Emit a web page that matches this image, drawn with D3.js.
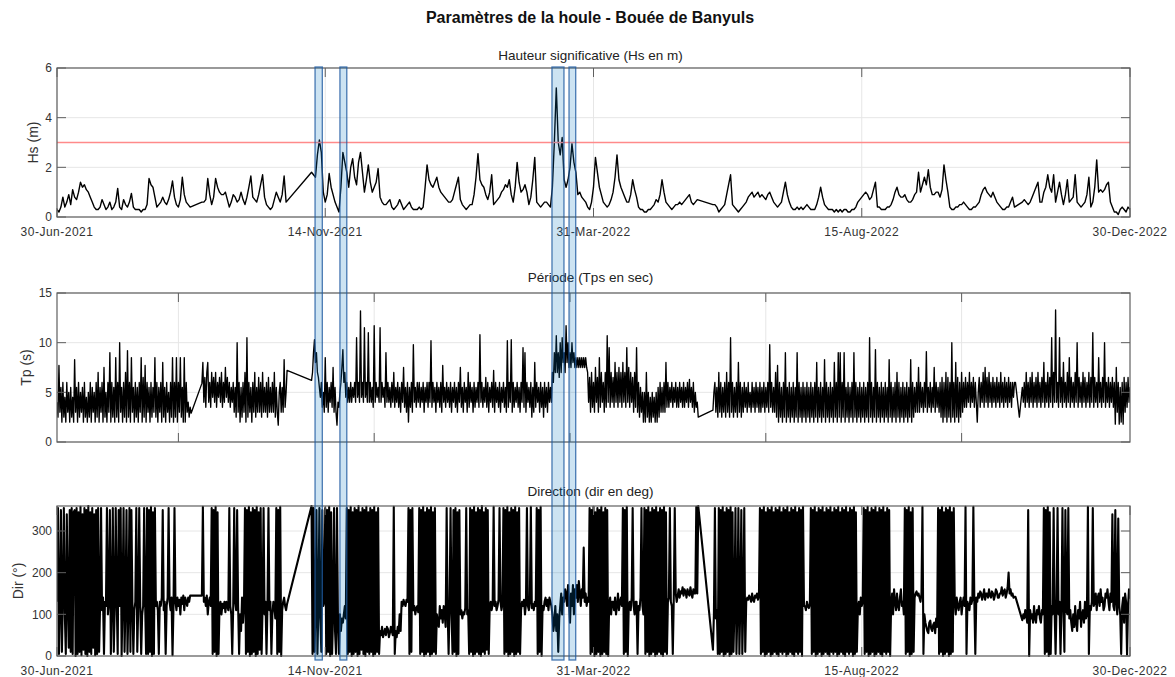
<!DOCTYPE html>
<html><head><meta charset="utf-8">
<script src="https://cdn.jsdelivr.net/npm/d3@7"></script>
<style>body{margin:0;background:#fff} svg{display:block} text{font-family:"Liberation Sans",Arial,Helvetica,sans-serif}</style>
</head><body><svg id="c" width="1175" height="677"></svg>
<script>
// ---------------- DATA ----------------
const START = "2021-06-30";
const END = "2022-12-30";
const xTickDates = ["2021-06-30","2021-11-14","2022-03-31","2022-08-15","2022-12-30"];
const tpTickDates = ["2021-08-31","2021-12-09","2022-03-19","2022-06-27","2022-10-05"];
const hsTicks = [0,2,4,6];
const tpTicks = [0,5,10,15];
const dirTicks = [0,100,200,300];
const hsThreshold = 3;
const eventWindows = [
  ["2021-11-08T19:00","2021-11-12T12:00"],
  ["2021-11-21T12:00","2021-11-25T00:00"],
  ["2022-03-09T19:00","2022-03-15T22:00"],
  ["2022-03-18T12:00","2022-03-21T22:00"]
];
// Hs: one value per day, one row = 10 days (null = no data)
const hsRows = [
[0.3,0.2,0.4,0.8,0.4,0.6,0.9,0.5,1.1,0.8],
[0.7,1.0,1.4,1.2,1.3,1.1,1.0,0.8,0.6,0.4],
[0.3,0.3,0.4,0.7,0.5,0.3,0.4,0.6,0.3,0.4],
[0.6,1.15,0.4,0.3,0.7,0.5,0.4,0.6,0.95,0.4],
[0.3,0.3,0.3,0.2,0.3,0.3,0.5,1.55,1.3,1.2],
[0.8,0.4,0.5,0.6,0.8,0.6,0.5,0.7,1.0,1.45],
[0.8,0.5,0.4,0.7,1.6,0.9,0.6,0.5,0.4,null],
[null,null,null,null,0.6,0.6,0.7,1.55,0.9,0.5],
[0.8,1.55,1.2,1.0,0.9,0.9,1.0,0.7,0.4,0.6],
[0.9,0.8,0.6,0.7,1.0,0.7,0.5,0.8,1.2,1.65],
[0.8,0.7,0.6,0.9,1.3,1.7,0.8,0.5,0.4,0.3],
[0.4,0.7,1.0,0.8,0.6,0.9,1.65,0.6,null,null],
[null,null,null,null,null,null,null,null,null,null],
[1.8,1.7,1.6,2.5,3.1,2.6,1.0,0.6,0.9,1.75],
[1.2,0.9,0.6,0.4,0.2,1.2,2.6,2.2,1.8,1.2],
[2.0,2.35,1.6,1.3,2.2,2.6,1.8,1.0,1.5,2.1],
[1.4,1.0,1.2,1.4,1.95,0.8,0.6,0.5,0.5,0.6],
[0.7,0.4,0.3,0.4,0.5,0.7,0.5,0.3,0.4,0.5],
[0.6,0.4,0.3,0.3,0.3,0.4,0.3,0.4,1.2,2.1],
[1.5,1.3,1.2,1.4,1.6,1.2,1.0,0.9,0.8,0.7],
[0.6,0.6,0.7,1.0,1.3,1.6,0.7,0.5,0.4,0.3],
[0.4,0.5,0.5,0.9,1.6,2.55,1.5,1.3,1.2,0.9],
[0.7,1.0,1.7,0.5,0.6,0.7,0.8,1.0,1.1,1.3],
[1.2,1.5,0.9,0.6,1.2,2.2,1.4,1.0,1.1,1.3],
[1.0,0.5,0.8,1.5,2.4,0.6,0.5,0.4,0.5,0.6],
[0.6,0.5,0.4,1.2,3.0,5.2,3.0,2.5,3.2,1.5],
[1.2,1.5,2.0,2.95,2.2,1.8,0.9,1.0,0.8,0.7],
[0.6,0.4,0.3,0.6,1.2,2.4,1.8,1.2,0.9,0.6],
[0.5,0.4,0.5,0.7,1.0,1.6,2.5,1.5,1.2,1.0],
[0.8,0.6,0.6,0.9,1.5,1.1,0.8,0.4,0.3,0.3],
[0.2,0.2,0.3,0.3,0.4,0.5,0.7,0.6,0.9,1.5],
[1.0,0.6,0.5,0.4,0.3,0.4,0.5,0.5,0.6,0.5],
[0.6,0.7,0.8,0.9,0.6,0.5,0.6,0.7,null,null],
[null,null,null,null,null,0.5,0.5,0.4,0.2,0.3],
[0.4,0.5,0.9,1.3,1.7,0.5,0.4,0.3,0.2,0.3],
[0.4,0.5,0.6,0.8,0.9,1.0,0.8,0.9,1.0,0.8],
[0.9,0.8,0.7,0.9,1.0,0.8,0.6,0.5,0.4,0.5],
[0.6,1.0,1.4,0.9,0.6,0.4,0.3,0.3,0.4,0.3],
[0.4,0.3,0.4,0.5,0.4,0.3,0.3,0.3,0.5,0.8],
[1.2,0.8,0.5,0.4,0.3,0.3,0.3,0.2,0.3,0.2],
[0.3,0.2,0.3,0.3,0.2,0.2,0.3,0.3,0.4,0.6],
[0.7,0.8,0.9,1.0,0.9,0.7,0.8,1.1,1.4,0.4],
[0.4,0.3,0.3,0.3,0.4,0.4,0.5,0.7,1.0,1.2],
[0.9,0.8,0.8,0.9,0.7,0.6,0.6,0.7,0.9,1.0],
[1.8,1.0,1.3,1.6,1.3,1.9,1.2,0.9,0.9,1.0],
[1.0,0.8,1.1,2.1,1.5,1.0,0.4,0.3,0.3,0.4],
[0.4,0.5,0.5,0.6,0.5,0.4,0.3,0.3,0.4,0.4],
[0.5,0.6,0.9,1.1,1.2,1.0,0.9,0.8,1.0,0.8],
[0.6,0.5,0.4,0.3,0.3,0.4,0.4,0.6,0.8,0.4],
[null,null,null,0.6,0.7,0.6,0.5,0.6,0.8,1.0],
[1.2,1.4,0.6,0.6,1.0,1.2,1.7,1.2,1.0,1.7],
[0.6,1.0,1.4,0.9,0.5,0.9,1.5,0.6,0.7,0.8],
[1.7,0.6,0.5,0.4,0.5,0.6,0.9,1.6,0.4,0.6],
[1.2,2.3,1.0,1.1,1.0,1.1,1.3,1.4,0.6,0.4],
[0.2,0.2,0.1,0.3,0.4,0.3,0.2,0.4,0.3]
];
// Tp: two values per day (12 h), one row = 10 days
const tpRows = [
[4,2.5,7.7,3,5.5,2,6,2.5,4.5,2,6,3,5,2,5.5,2.5,4.5,2,8.3,3],
[5.5,2,6,2.5,5,3,5.5,2,6,2.5,4.5,2,5,2.5,6,2,5.5,3,5,2],
[6,2.5,7,2,5.5,3,6,2,7.5,2.5,5,2,6,3,9,2,6,2.5,5.5,2],
[8.5,2.5,6,2,10,3,5.5,2,6,2.5,7,2,9.2,2.5,6,2,8.5,3,5.5,2],
[6,2.5,5.5,2,6,3,8.5,2,6.5,2.5,7.7,2,6,3,5.5,2,6,2.5,5.5,3],
[8.5,2.5,6,2,5.5,3,6,2,8,2.5,5.5,2,6,3,5,2,6,2.5,8.5,2],
[6,2.5,8.5,2,6,3,8.5,2.5,5.5,2,8.5,2,6,3,4,2.5,3.5,2.9,null,null],
[null,null,null,null,null,null,null,null,5.9,8,4,6.5,3.5,7,8,4,6,3.5,7,4.5],
[6.5,4,7,3.5,6,4.5,6.5,4,7,3.5,6,4,7.5,4.5,6.5,4,6,3.5,5.5,4],
[6,3,5.5,2.5,10,3,6,2,5.5,2.5,6,3,7,2,10.5,2.5,6,3,5.5,2],
[6,3,7,2.5,5.5,3,6.5,3,6,2.5,7,3,5.5,3,6,2.5,6.5,3,5.5,3],
[6,3,7,2.5,5.5,3,1.7,5,6,3,5.5,3,8.3,3.5,5,7.2,null,null,null,null],
[null,null,null,null,null,null,null,null,null,null,null,null,null,null,null,null,null,null,null,null],
[6.2,7,9,10.3,8,9,7,6.5,5.5,4.5,6,3.5,5,3,8.5,3.5,6,3,5.5,4],
[6,3.5,7.5,3,5.5,3,1.7,4,3.5,5,6,7.5,9.3,6,7,4.5,6,4,5.5,4],
[6,4,5.5,4.5,6,4,10.5,4.5,6,4,13.2,4.5,6,4,11.5,4.5,6,4,11,4],
[6,4,5.5,3.5,11.7,4,6,4.5,5.5,4,11.5,4,6,4.5,5.5,3.5,9,4,6,4],
[5.5,3.5,6,4,7,3.5,5.5,4,6,3.5,5.5,3,6,4,7.5,3.5,5.5,3,6,2],
[5.5,3.5,6,3,9.8,4,5.5,3.5,6,4,6,3.5,5.5,4,6,3,5.5,4,6,3.5],
[6,4,10.2,3.5,6,4,5.5,3,6,4,5.5,3.5,6,3,7.7,4,5.5,3.5,6,4],
[5.5,3.5,6,3,5.5,4,6,3.5,5.5,3,6,4,7.5,3.5,5.5,3,6,4,5.5,3],
[7,3.5,6,4,5.5,3,6,3.5,5.5,4,6,3.5,10.8,4,6,3.5,5.5,4,6.5,3.5],
[6,3,5.5,4,6,3.5,7.2,3,6,4,5.5,3.5,6,3,5.5,4,6,3.5,5.5,3],
[10.2,3.5,6,4,10.3,3,6,3.5,5.5,4,6,3.5,5.5,3,6,4,9.5,3.5,9,3],
[6,4,5.5,3.5,6,2.5,5.5,3,8,3.5,6,4,5.5,3,6,3.5,5.5,2.5,6,3.5],
[5.5,3,6,4,5.5,4,7,6,9,7,10.7,7,9,6.5,10,7,10.5,8,9,7],
[11.7,8,10,7.5,9,7.5,10,8,9,7.5,8.5,7.5,8.5,7.5,8.5,7.5,8.5,7.5,8.5,7.5],
[8.5,7.5,7,4,6.5,3,7,3.5,6,3,7.5,4,6.5,3,8.5,3.5,7,4,6,3],
[7,3.5,10.7,4,9.5,3.5,7,4,6.5,3.5,8,4,7,3.5,7.5,4,7,3.5,8,4],
[7,3.5,9.5,4,7.5,3.5,7,4,6.5,3,7,3.5,9.5,3,6,2.5,5.5,3,5,2],
[5,2,7,2.5,5,2,4.5,2,5,2.5,4.5,2,5,2,5.5,2.5,6,3,5.5,3],
[6,3,8,3.5,6,3.5,5.5,4,6,3.5,5.5,4,6,3.5,5.5,3.5,6,4,5.5,3.5],
[6,3.5,5.5,4,6,3.5,6.3,4,5.5,3.5,6,3,5,3.5,4,2.5,null,null,null,null],
[null,null,null,null,null,null,null,null,null,null,3.2,5,6,3,5.5,2.5,7,3,6,2.5],
[5.5,3,6,2.5,7,3,6,2.5,10.5,3,6,2.5,5.5,3,6,2.5,8,3,6,2.5],
[5.5,3,6,3.5,5.5,3,6,3.5,5,3,6,3.5,5.5,3,6,3.5,5.5,3,6,3],
[5.5,3.5,6,3,5.5,3.5,6,3,9.8,3.5,6,3,5.5,3,7,2.5,7.7,2,6,2.5],
[5.5,2,6,2.5,9,2,5.5,2.5,6,2,5.5,2.5,6,2,5.5,2.5,9,2,6,2.5],
[5.5,2,6,2.5,5.5,2,6,2.5,5.5,2,6,2.5,5.5,2,6,2.5,8,2,5.5,2.5],
[6,2,5.5,2.5,8.3,2,6,2.5,5.5,2,6,2.5,5.5,2,8,2.5,6,2,9,2.5],
[9,2,6,2.5,9,2,5.5,2.5,6,2,5.5,2.5,6,2,9,2.5,6,2,5.5,2.5],
[6,2,5.5,2.5,6,2,5.5,2.5,6,2,10.5,2.5,6,2,5.5,2.5,9.3,2,6,2.5],
[5.5,2,6,2.5,5.5,2,6,2.5,5.5,2,8.3,2.5,6,2,5.5,2.5,6,2,7,2.5],
[6,2,5.5,2.5,6,2,5.5,2.5,6,2,5.5,2.5,8.3,2,6,2.5,5.5,3,6,3],
[7.5,3,6,3.5,5.5,3,6,3.5,9.1,3,5.5,3.5,6,3,5.5,3.5,7.5,3,6,3.5],
[5.5,3,6,2.5,6.5,2,6,2.5,7,2,6.5,2.5,6,2,10,2.5,6,2,8,2.5],
[6.5,2,6,2.5,7,3,6,3.5,6.5,3.5,6,4,7,3.5,6,4,6.5,3.5,6,4],
[2,5,6.5,3.5,6,4,7,3.5,7.5,4,6.5,3.5,7,4,6,3.5,6.5,4,6,3.5],
[6.5,4,6,3.5,7,4,6,3.5,6.5,4,6,3.5,6.5,4,6,3.5,6,4.5,6,6],
[null,null,null,2.5,null,null,5.5,4,6,3.5,7,4,6,3.5,6.5,4,7,3.5,6,4],
[6.5,3.5,7,4,6,3.5,6.5,4,8,3.5,6,4,7,3.5,6.5,4,10.5,3.5,7,4],
[13.3,4,6,3.5,10.5,4,6.5,3.5,8,4,6,3.5,7,4,8.5,3.5,6.5,4,6,3.5],
[7,4,10,3.5,6.5,4,6,3.5,7,4,6.5,3.5,6,4,7,3.5,6.5,4,11,3.5],
[6.5,4,6,3.5,8.5,4,6,3.5,6.5,4,10,3.5,6,4,6.5,3.5,6,4,6.5,3.5],
[6,1.8,7.5,3,6,1.8,5.5,2,6,1.8,6.5,3,6,3.5,6.5,4,5.5,5]
];
// Direction: two values per day (12 h), one row = 10 days
const dirRows = [
[130,355,5,120,350,10,140,355,100,5,340,130,20,350,10,355,5,345,350,0],
[355,5,345,10,358,2,340,15,355,5,350,0,360,10,345,5,355,20,340,2],
[350,5,355,10,120,355,110,140,5,130,120,355,100,130,350,5,130,355,10,120],
[355,130,5,350,120,355,0,140,355,10,130,350,5,120,355,10,350,130,5,110],
[130,355,10,120,355,130,5,100,120,355,130,5,355,5,350,10,358,0,345,5],
[355,120,130,110,5,130,120,140,350,110,130,5,120,140,355,130,110,140,2,120],
[355,130,110,140,120,135,100,140,125,145,110,140,130,120,140,130,145,145,null,null],
[null,null,null,null,null,null,null,null,145,358,130,140,120,145,100,130,140,120,355,5],
[350,10,358,0,345,5,120,130,100,125,115,130,105,130,120,110,355,120,100,5],
[120,355,130,110,350,120,5,100,60,140,80,120,355,5,350,10,358,0,345,5],
[355,10,350,0,358,5,345,15,355,5,120,355,100,130,5,120,355,110,130,5],
[100,130,120,90,355,5,350,10,358,0,110,130,140,120,110,125,null,null,null,null],
[null,null,null,null,null,null,null,null,null,null,null,null,null,null,null,null,null,null,null,null],
[360,5,355,10,100,350,5,110,355,90,10,350,120,130,355,5,350,10,358,0],
[345,5,100,355,60,5,355,80,5,100,60,90,80,100,120,90,355,5,350,10],
[358,0,345,5,355,10,350,0,360,5,345,15,355,5,350,0,358,10,345,5],
[355,10,350,0,358,5,345,10,355,5,60,50,70,45,55,65,50,70,65,45],
[55,70,60,50,358,5,60,45,70,55,100,60,130,120,135,125,120,135,130,355],
[5,350,10,355,110,120,100,115,120,105,355,5,350,10,358,0,345,5,355,10],
[350,0,358,5,345,10,355,5,100,80,70,120,90,110,80,120,100,70,355,110],
[5,120,355,100,5,350,10,355,0,345,5,350,100,110,90,105,100,115,355,100],
[110,5,355,10,350,0,358,5,345,10,355,5,350,0,360,10,345,5,355,15],
[350,5,120,130,110,125,358,120,130,110,120,135,355,130,110,125,355,5,350,10],
[358,0,345,5,355,10,350,0,358,5,345,10,355,5,110,130,120,135,100,125],
[355,120,110,130,358,115,125,110,130,120,355,5,350,10,358,0,120,110,130,140],
[120,135,110,140,130,120,100,60,80,120,60,100,10,90,120,150,100,140,130,160],
[150,120,170,130,80,150,120,170,100,160,140,170,130,180,150,120,160,140,260,130],
[150,120,140,130,355,5,350,10,358,0,345,5,355,10,350,0,358,5,345,10],
[355,5,350,0,120,140,100,130,130,110,140,100,120,150,110,130,140,120,355,5],
[350,10,358,0,120,130,110,140,355,120,100,130,130,5,120,110,140,355,120,100],
[355,5,350,10,358,0,345,5,355,10,350,0,358,5,345,10,355,5,350,0],
[358,10,345,5,130,140,355,130,120,5,140,355,150,130,145,160,140,155,150,165],
[145,160,155,140,160,150,145,165,150,140,160,150,150,358,150,360,null,null,null,null],
[null,null,null,null,null,null,null,null,null,null,15,100,355,90,110,5,355,5,350,10],
[358,0,345,5,355,10,350,0,358,5,345,10,120,355,5,110,355,5,130,350],
[5,120,355,10,130,140,135,145,140,130,150,135,130,145,140,150,135,145,355,5],
[350,10,358,0,345,5,355,10,350,0,358,5,345,10,355,5,350,0,358,10],
[345,5,355,10,350,0,358,5,345,10,355,5,350,0,358,10,345,5,355,10],
[350,0,358,120,120,110,130,120,115,125,355,5,350,10,358,0,345,5,355,10],
[350,0,358,5,345,10,355,5,350,0,358,10,345,5,355,10,350,0,358,5],
[345,10,355,5,350,0,358,10,345,5,355,10,350,0,358,5,345,10,110,130],
[100,140,120,130,355,5,350,10,358,0,345,5,355,10,350,0,358,5,345,10],
[355,5,350,0,358,10,345,5,355,10,350,0,120,150,100,160,130,110,150,120],
[110,140,160,120,130,100,355,5,350,10,358,0,345,5,355,10,140,150,155,145],
[150,140,130,150,358,5,100,80,70,60,55,80,85,65,60,75,80,55,90,70],
[355,5,350,10,358,0,345,5,355,10,350,0,358,5,345,10,355,130,100,140],
[120,110,130,140,100,125,140,120,358,5,130,120,110,140,125,135,358,130,5,140],
[130,150,140,155,150,135,145,160,135,150,150,140,160,145,140,155,150,135,145,160],
[155,140,140,150,150,165,145,155,160,140,150,165,200,150,160,145,150,140,142,142],
[null,null,null,null,null,null,86,100,90,110,100,80,350,0,110,90,100,80,120,90],
[80,110,100,120,90,80,110,100,355,5,350,10,358,0,345,5,120,100,355,110],
[5,120,355,100,130,5,110,355,120,10,350,110,100,355,90,110,80,60,100,70],
[120,80,60,110,90,130,70,100,110,80,130,90,100,358,5,120,110,130,355,120],
[130,150,110,140,150,120,160,130,140,110,120,150,140,160,130,110,150,130,340,120],
[110,350,130,100,330,120,100,5,120,140,80,150,130,3,120,160,140,150]
];

// ---------------- BUILD ----------------
const parseDay = d3.utcParse("%Y-%m-%d");
const parseDT = d3.utcParse("%Y-%m-%dT%H:%M");
const t0 = parseDay(START).getTime();
function build(rows, step) {
  const out = [];
  rows.forEach((r, ri) => r.forEach((v, i) => {
    if (v !== null) out.push({t: new Date(t0 + (ri * 10 + i * step) * 864e5), v});
  }));
  return out;
}
const hs = build(hsRows, 1);
const tp = build(tpRows, 0.5);
const dir = build(dirRows, 0.5);

const svg = d3.select("#c");
const L = 57, R = 1130;
const x = d3.scaleUtc().domain([parseDay(START), parseDay(END)]).range([L, R]);
const fmt = d3.utcFormat("%d-%b-%Y");
const labelTicks = xTickDates.map(parseDay);
const tpXTicks = tpTickDates.map(parseDay);

svg.append("text").attr("x", 590).attr("y", 23).attr("text-anchor", "middle")
  .attr("font-size", 16).attr("font-weight", "bold").attr("fill", "#111")
  .text("Paramètres de la houle - Bouée de Banyuls");

const panels = [
  {top: 68, bottom: 217, dom: [0, 6], yt: hsTicks, data: hs, title: "Hauteur significative (Hs en m)", titleY: 60, ylab: "Hs (m)", labX: 38, xt: labelTicks, showX: true, labY: 236, sw: 1.4},
  {top: 293, bottom: 442, dom: [0, 15], yt: tpTicks, data: tp, title: "Période (Tps en sec)", titleY: 282, ylab: "Tp (s)", labX: 31, xt: tpXTicks, showX: false, sw: 1.35},
  {top: 506, bottom: 656, dom: [0, 360], yt: dirTicks, data: dir, title: "Direction (dir en deg)", titleY: 496, ylab: "Dir (°)", labX: 23, xt: labelTicks, showX: true, labY: 675, sw: 2.1}
];

const AX = "#5f5f5f", GRID = "#e6e6e6", TXT = "#333";
panels.forEach((p, i) => {
  const y = d3.scaleLinear().domain(p.dom).range([p.bottom, p.top]);
  const g = svg.append("g");
  // grid
  g.selectAll(".gy").data(p.yt).join("line")
    .attr("x1", L).attr("x2", R).attr("y1", d => y(d)).attr("y2", d => y(d))
    .attr("stroke", GRID).attr("stroke-width", 1);
  g.selectAll(".gx").data(p.xt).join("line")
    .attr("x1", d => x(d)).attr("x2", d => x(d)).attr("y1", p.top).attr("y2", p.bottom)
    .attr("stroke", GRID).attr("stroke-width", 1);
  // clip
  svg.append("clipPath").attr("id", "clip" + i).append("rect")
    .attr("x", L).attr("y", p.top - 1).attr("width", R - L).attr("height", p.bottom - p.top + 2);
  const line = d3.line().x(d => x(d.t)).y(d => y(d.v));
  g.append("path").datum(p.data).attr("clip-path", `url(#clip${i})`)
    .attr("d", line).attr("fill", "none").attr("stroke", "#000")
    .attr("stroke-width", p.sw).attr("stroke-linejoin", "round");
  if (i === 0) {
    g.append("line").attr("x1", L).attr("x2", R).attr("y1", y(hsThreshold)).attr("y2", y(hsThreshold))
      .attr("stroke", "#ff8a8a").attr("stroke-width", 1.4);
  }
  // box
  g.append("rect").attr("x", L).attr("y", p.top).attr("width", R - L).attr("height", p.bottom - p.top)
    .attr("fill", "none").attr("stroke", AX).attr("stroke-width", 1.2);
  // y ticks (both sides, inward)
  const tl = 9;
  p.yt.forEach(v => {
    g.append("line").attr("x1", L).attr("x2", L + tl).attr("y1", y(v)).attr("y2", y(v)).attr("stroke", AX);
    g.append("line").attr("x1", R - tl).attr("x2", R).attr("y1", y(v)).attr("y2", y(v)).attr("stroke", AX);
    g.append("text").attr("x", L - 5).attr("y", y(v)).attr("dy", "0.35em").attr("text-anchor", "end")
      .attr("font-size", 12).attr("fill", TXT).text(v);
  });
  // x ticks (top & bottom, inward)
  p.xt.forEach(d => {
    g.append("line").attr("x1", x(d)).attr("x2", x(d)).attr("y1", p.bottom).attr("y2", p.bottom - tl).attr("stroke", AX);
    g.append("line").attr("x1", x(d)).attr("x2", x(d)).attr("y1", p.top).attr("y2", p.top + tl).attr("stroke", AX);
    if (p.showX) {
      g.append("text").attr("x", x(d)).attr("y", p.labY).attr("text-anchor", "middle")
        .attr("font-size", 12).attr("letter-spacing", 0.5).attr("fill", TXT).text(fmt(d));
    }
  });
  // titles
  g.append("text").attr("x", (L + R) / 2 - 3).attr("y", p.titleY).attr("text-anchor", "middle")
    .attr("font-size", 13.5).attr("fill", "#222").text(p.title);
  g.append("text").attr("transform", `translate(${p.labX},${(p.top + p.bottom) / 2}) rotate(-90)`)
    .attr("text-anchor", "middle").attr("font-size", 14).attr("fill", TXT).text(p.ylab);
});

// event windows spanning the three panels
svg.append("g").selectAll("rect").data(eventWindows).join("rect")
  .attr("x", d => x(parseDT(d[0])))
  .attr("width", d => x(parseDT(d[1])) - x(parseDT(d[0])))
  .attr("y", 67).attr("height", 593)
  .attr("fill", "rgba(0,114,189,0.2)")
  .attr("stroke", "rgba(30,90,160,0.8)").attr("stroke-width", 1.3);
</script>
</body></html>
